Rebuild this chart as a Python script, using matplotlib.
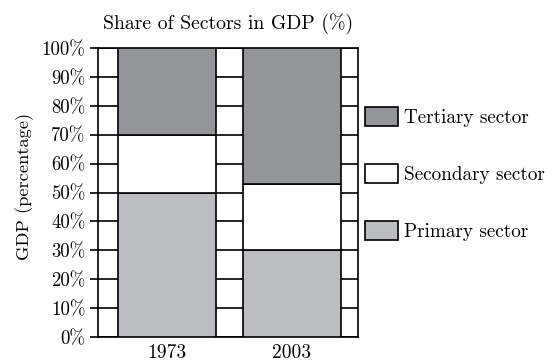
import matplotlib
matplotlib.use("Agg")
import matplotlib.pyplot as plt
from matplotlib.patches import Patch
import numpy as np

plt.rcParams["font.family"] = ["cmr10", "DejaVu Serif"]
plt.rcParams["mathtext.fontset"] = "cm"
plt.rcParams["axes.formatter.use_mathtext"] = True

# Datos
anios = ["1973", "2003"]
primario = [50, 30]
secundario = [20, 23]
terciario = [30, 47]
etiquetas = ["Tertiary sector", "Secondary sector", "Primary sector"]
colores = {"Primary sector": "#bcbdc0", "Secondary sector": "#ffffff", "Tertiary sector": "#939598"}

fig = plt.figure(figsize=(5.58, 3.62), dpi=100)
ax = fig.add_axes([98 / 558, 25 / 362, 260 / 558, 289 / 362])

x = np.arange(len(anios))
ancho = 0.784
base2 = np.array(primario) + np.array(secundario)

ax.bar(x, primario, ancho, color=colores["Primary sector"], edgecolor="black", linewidth=1.2, zorder=3)
ax.bar(x, secundario, ancho, bottom=primario, color=colores["Secondary sector"],
       edgecolor="black", linewidth=1.2, zorder=3)
ax.bar(x, terciario, ancho, bottom=base2, color=colores["Tertiary sector"],
       edgecolor="black", linewidth=1.2, zorder=3)

ax.set_xlim(-0.552, 1.528)
ax.set_ylim(0, 100)
yt = np.arange(0, 101, 10)
ax.set_yticks(yt)
ax.set_yticklabels([f"{v}%" for v in yt], fontsize=13.5)
ax.set_xticks(x)
ax.set_xticklabels(anios, fontsize=14)
ax.tick_params(axis="y", length=6, width=1.2, color="black", pad=3)
ax.tick_params(axis="x", length=0, pad=5)
ax.yaxis.grid(True, color="black", linewidth=1.2, zorder=0)
ax.set_axisbelow(True)
for s in ax.spines.values():
    s.set_linewidth(1.2)

ax.set_ylabel("GDP (percentage)", fontsize=13.3)
ax.yaxis.set_label_coords(-0.245, 0.52)
ax.set_title("Share of Sectors in GDP (%)", fontsize=14.2, pad=14)

handles = [Patch(facecolor=colores[e], edgecolor="black", linewidth=1.2, label=e) for e in etiquetas]
fig.legend(handles=handles, loc="upper left", bbox_to_anchor=(365 / 558, (362 - 107) / 362),
           bbox_transform=fig.transFigure, frameon=False, borderpad=0, borderaxespad=0,
           handlelength=1.7, handleheight=1.15, handletextpad=0.35, labelspacing=1.93,
           fontsize=13.8)

fig.savefig("out.png", dpi=100)
